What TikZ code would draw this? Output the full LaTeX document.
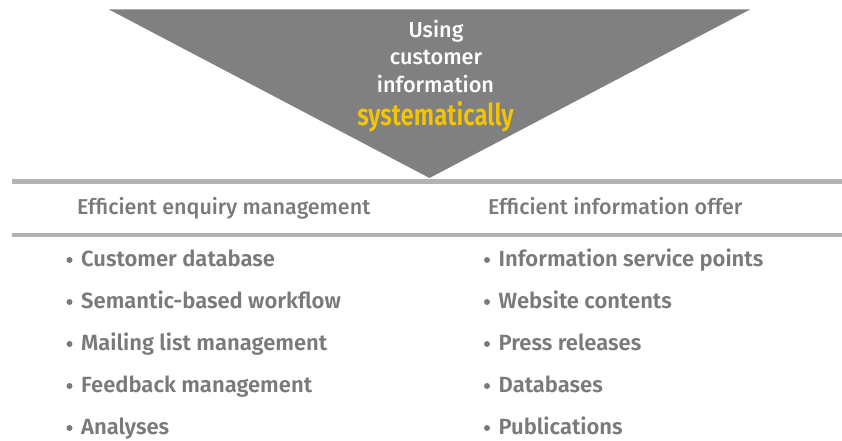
\documentclass[tikz,border=0pt]{standalone}
\usepackage{fontspec}
\setmainfont{Fira Sans}[UprightFont=* Medium, BoldFont=* SemiBold]
\newfontfamily\narrowfont{Fira Sans}[UprightFont=* SemiBold, FakeStretch=0.80]
\definecolor{wedgegray}{HTML}{808080}
\definecolor{rulegray}{HTML}{B3B3B3}
\definecolor{textgray}{HTML}{7A7A7A}
\definecolor{accent}{HTML}{F7C500}
\begin{document}
\begin{tikzpicture}[x=1pt,y=-1pt,
  rulebar/.style={draw=rulegray,line width=4.5pt},
  heading/.style={anchor=base west,text=textgray,font=\fontsize{21.5}{24}\selectfont,inner sep=0pt},
  item/.style={anchor=base west,text=textgray,font=\bfseries\fontsize{22}{26}\selectfont,inner sep=0pt},
  dot/.style={circle,fill=textgray,minimum size=6pt,inner sep=0pt},
  title/.style={anchor=base,text=white,font=\fontsize{21.7}{26}\selectfont,inner sep=0pt}]
\useasboundingbox (0,0) rectangle (842,441);
% funnel wedge
\coordinate (tl) at (109,9.5);
\coordinate (tr) at (750,9.5);
\coordinate (tip) at (429.5,178);
\fill[wedgegray] (tl) -- (tr) -- (tip) -- cycle;
\node[title] (t1) at (436,37.5) {Using};
\node[title] (t2) at (436,65) {customer};
\node[title] (t3) at (435.5,92.5) {information};
\node[anchor=base,inner sep=0pt,text=accent,font=\narrowfont\fontsize{30}{34}\selectfont] (t4) at (435.5,125) {systematically};
% rules
\coordinate (r1a) at (12,181.5);
\coordinate (r1b) at (842,181.5);
\coordinate (r2a) at (12,235);
\coordinate (r2b) at (842,235);
\draw[rulebar] (r1a) -- (r1b);
\draw[rulebar] (r2a) -- (r2b);
% column headings
\node[heading] (h1) at (77,214) {Efficient enquiry management};
\node[heading] (h2) at (488,214) {Efficient information offer};
% left list
\foreach \txt [count=\i] in {Customer database,Semantic-based workflow,Mailing list management,Feedback management,Analyses}{
  \node[dot] (ad\i) at (69.5,{260+42*(\i-1)}) {};
  \node[item] (a\i) at (81,{266+42*(\i-1)}) {\txt};
}
% right list
\foreach \txt [count=\i] in {Information service points,Website contents,Press releases,Databases,Publications}{
  \node[dot] (bd\i) at (487,{260+42*(\i-1)}) {};
  \node[item] (b\i) at (498.5,{266+42*(\i-1)}) {\txt};
}
\end{tikzpicture}
\end{document}
